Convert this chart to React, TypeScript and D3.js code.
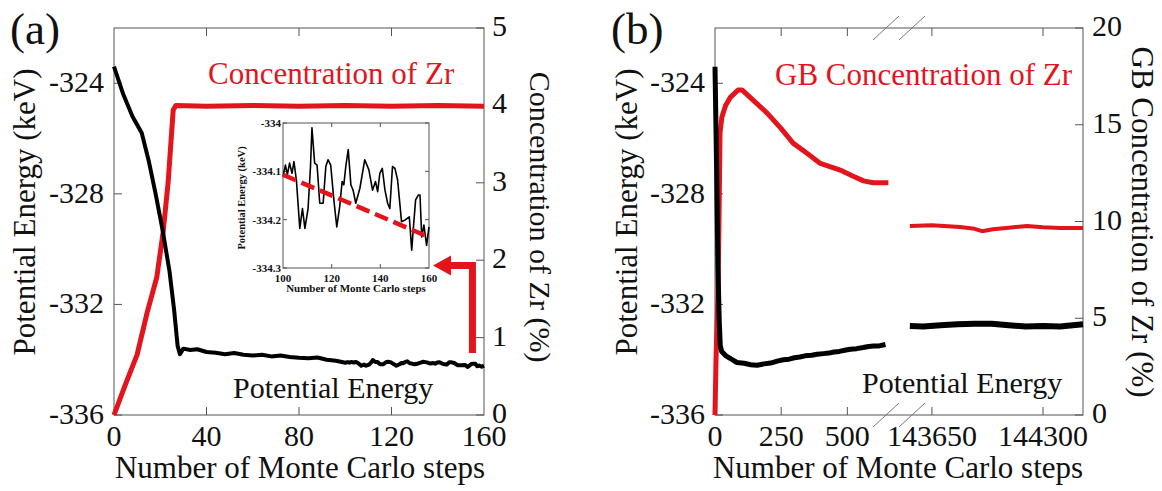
import React from 'react';
import * as d3 from 'd3';

// ---- panel (a) data ----
const aEnergySteps = [0, 4, 8, 12, 15, 18, 21, 24, 26, 27.5, 28.5, 30, 33, 36, 40, 44, 48, 52, 56, 60, 64, 68, 72, 76, 80, 84, 88, 92, 96];
const aEnergyVals = [-323.4, -324.4, -325.2, -325.8, -326.8, -328.0, -329.3, -330.8, -332.2, -333.5, -333.8, -333.6, -333.65, -333.62, -333.72, -333.75, -333.8, -333.76, -333.82, -333.85, -333.82, -333.88, -333.85, -333.9, -333.93, -333.95, -333.92, -334.0, -334.04];
const aConcSteps = [0, 5, 10, 14.3, 18.5, 21.2, 23.4, 25.6, 26.8, 40, 60, 80, 100, 120, 140, 160];
const aConcVals = [0, 0.4, 0.78, 1.32, 1.78, 2.35, 3.0, 3.94, 4.0, 3.99, 4.0, 3.99, 4.0, 3.99, 4.0, 3.99];

// inset: steps 100-160
const insetSteps = [100, 101, 101.8, 102.7, 103.7, 104.5, 105.5, 106.9, 108, 109, 110.3, 111.3, 111.9, 113, 114, 115.1, 116.5, 117.6, 118.5, 119.6, 120.9, 122.1, 123.3, 124.3, 125, 125.8, 126.8, 127.9, 128.8, 129.9, 131.6, 133.6, 135.3, 136.8, 138, 138.9, 139.8, 140.8, 141.9, 143, 143.9, 145, 146, 147.1, 148.7, 150.1, 151.9, 152.9, 153.5, 154.5, 155.6, 156.3, 157, 157.9, 159, 160];
const insetVals = [-334.111, -334.087, -334.107, -334.083, -334.104, -334.08, -334.118, -334.218, -334.177, -334.218, -334.177, -334.09, -334.01, -334.083, -334.087, -334.166, -334.166, -334.09, -334.076, -334.087, -334.159, -334.215, -334.173, -334.121, -334.128, -334.09, -334.055, -334.128, -334.139, -334.166, -334.135, -334.076, -334.097, -334.139, -334.121, -334.142, -334.104, -334.094, -334.139, -334.166, -334.177, -334.09, -334.094, -334.118, -334.204, -334.201, -334.194, -334.263, -334.222, -334.159, -334.149, -334.149, -334.236, -334.211, -334.253, -334.215];
const insetTrendSteps = [100, 160];
const insetTrendVals = [-334.107, -334.236];

const aXTicks = [0, 40, 80, 120, 160];
const energyTicks = [-324, -328, -332, -336];
const aConcTicks = [0, 1, 2, 3, 4, 5];
const insetXTicks = [100, 120, 140, 160];
const insetYTicks = [-334, -334.1, -334.2, -334.3];

// ---- panel (b) data ----
const bEnergy1Steps = [0, 6, 11, 16, 20, 25, 40, 60, 83, 110, 135, 159, 185, 210, 235, 258, 280, 300, 320, 340, 365, 386, 410, 430, 450, 470, 490, 511, 535, 560, 580, 600, 620, 644];
const bEnergy1Vals = [-323.4, -327.0, -330.6, -332.6, -333.5, -333.7, -333.85, -333.97, -334.1, -334.13, -334.18, -334.2, -334.15, -334.12, -334.05, -334.0, -333.98, -333.93, -333.9, -333.86, -333.84, -333.8, -333.78, -333.76, -333.72, -333.7, -333.66, -333.62, -333.6, -333.56, -333.52, -333.5, -333.5, -333.45];
const bEnergy2Steps = [143521, 143600, 143700, 143800, 143900, 144000, 144100, 144200, 144300, 144400, 144534];
const bEnergy2Vals = [-332.78, -332.8, -332.75, -332.72, -332.7, -332.7, -332.75, -332.8, -332.78, -332.8, -332.72];
const bConc1Steps = [0, 4, 11, 15, 19, 26, 40, 57, 87, 102, 150, 197, 250, 295, 350, 398, 473, 520, 561, 598, 655];
const bConc1Vals = [0, 3, 6, 10, 14.6, 15.4, 16.0, 16.4, 16.8, 16.8, 16.2, 15.6, 14.8, 14.05, 13.5, 13.0, 12.66, 12.35, 12.1, 12.0, 12.0];
const bConc2Steps = [143521, 143650, 143814, 143900, 143943, 144007, 144100, 144206, 144300, 144399, 144534];
const bConc2Vals = [9.77, 9.8, 9.72, 9.62, 9.5, 9.6, 9.68, 9.77, 9.7, 9.66, 9.66];

const bXTicks = [0, 250, 500, 143650, 144300];
const bConcTicks = [0, 5, 10, 15, 20];

const RED = '#e3141c';
const FRAME = '#555';
const FONT = '"Liberation Serif", "Times New Roman", serif';

const zip = (xs: number[], ys: number[]) => xs.map((x, i) => [x, ys[i]] as [number, number]);

export default function App() {
  const top = 28, bottom = 415;

  // scales (a)
  const xA = d3.scaleLinear().domain([0, 160]).range([114, 484]);
  const yE = d3.scaleLinear().domain([-336, -322]).range([bottom, top]);
  const yCA = d3.scaleLinear().domain([0, 5]).range([bottom, top]);
  const xI = d3.scaleLinear().domain([100, 160]).range([283, 429]);
  const yI = d3.scaleLinear().domain([-334.3, -334]).range([268, 123]);

  // scales (b) - broken axis
  const xB = d3.scaleLinear().domain([0, 680, 143434, 144534]).range([715, 895, 895, 1083]);
  const yCB = d3.scaleLinear().domain([0, 20]).range([bottom, top]);

  const lineA = d3.line<[number, number]>().x(d => xA(d[0])).y(d => yE(d[1]));
  const concA = d3.line<[number, number]>().x(d => xA(d[0])).y(d => yCA(d[1]));
  const lineI = d3.line<[number, number]>().x(d => xI(d[0])).y(d => yI(d[1]));
  const lineB = d3.line<[number, number]>().x(d => xB(d[0])).y(d => yE(d[1]));
  const concB = d3.line<[number, number]>().x(d => xB(d[0])).y(d => yCB(d[1]));

  const aEnergy = zip(aEnergySteps, aEnergyVals).concat(zip(insetSteps, insetVals));

  const tickLen = 8;
  const txt = { fontFamily: FONT, fontSize: 30, fill: '#111' } as React.CSSProperties;

  // arrow from right axis region up and left to the inset corner
  const arrX = xA(155);
  const arrY0 = yCA(0.8);
  const arrY1 = yCA(1.93);
  const tipX = xI(160) + 4;

  const slash = (cx: number, cy: number, key: string) => (
    <line key={key} x1={cx - 13} y1={cy + 12} x2={cx + 13} y2={cy - 12} stroke="#777" strokeWidth={1} />
  );

  return (
    <svg width={1162} height={491} style={{ position: 'absolute', left: 0, top: 0, background: '#fff' }}>
      {/* ================= panel (a) ================= */}
      <text x={10} y={44} style={{ ...txt, fontSize: 45 }}>(a)</text>
      <rect x={114} y={top} width={370} height={bottom - top} fill="none" stroke={FRAME} strokeWidth={1} />
      {aXTicks.map(t => (
        <g key={'ax' + t}>
          {t > 0 && t < 160 && <>
            <line x1={xA(t)} x2={xA(t)} y1={bottom} y2={bottom - tickLen} stroke={FRAME} />
            <line x1={xA(t)} x2={xA(t)} y1={top} y2={top + tickLen} stroke={FRAME} />
          </>}
          <text x={xA(t)} y={446} textAnchor="middle" style={txt}>{t}</text>
        </g>
      ))}
      {energyTicks.map(t => (
        <g key={'aye' + t}>
          <line x1={114} x2={114 + tickLen} y1={yE(t)} y2={yE(t)} stroke={FRAME} />
          <text x={104} y={yE(t) + 9} textAnchor="end" style={txt}>{t}</text>
        </g>
      ))}
      {aConcTicks.map(t => (
        <g key={'ayc' + t}>
          <line x1={484} x2={484 - tickLen} y1={yCA(t)} y2={yCA(t)} stroke={FRAME} />
          <text x={492} y={yCA(t) + 8} textAnchor="start" style={txt}>{t}</text>
        </g>
      ))}
      <text x={300} y={478} textAnchor="middle" style={{ ...txt, fontSize: 31 }}>Number of Monte Carlo steps</text>
      <text transform={`translate(35,212) rotate(-90)`} textAnchor="middle" style={{ ...txt, fontSize: 31 }}>Potential Energy (keV)</text>
      <text transform={`translate(530,217) rotate(90)`} textAnchor="middle" style={{ ...txt, fontSize: 30 }}>Concentration of Zr (%)</text>

      <path d={concA(zip(aConcSteps, aConcVals)) || ''} fill="none" stroke={RED} strokeWidth={5} strokeLinejoin="round" />
      <path d={lineA(aEnergy) || ''} fill="none" stroke="#000" strokeWidth={4} strokeLinejoin="round" />

      <text x={208} y={84} style={{ ...txt, fontSize: 31, fill: RED }}>Concentration of Zr</text>
      <text x={233} y={398} style={{ ...txt, fontSize: 30 }}>Potential Energy</text>

      {/* arrow */}
      <path d={`M${arrX},${arrY0} L${arrX},${arrY1} L${tipX + 16},${arrY1}`} fill="none" stroke={RED} strokeWidth={7} />
      <path d={`M${tipX},${arrY1} L${tipX + 18},${arrY1 - 10} L${tipX + 18},${arrY1 + 10} Z`} fill={RED} />

      {/* inset */}
      <rect x={283} y={123} width={146} height={145} fill="#fff" stroke={FRAME} strokeWidth={1} />
      {insetXTicks.map(t => (
        <g key={'ix' + t}>
          {t > 100 && t < 160 && <>
            <line x1={xI(t)} x2={xI(t)} y1={268} y2={264} stroke={FRAME} />
            <line x1={xI(t)} x2={xI(t)} y1={123} y2={127} stroke={FRAME} />
          </>}
          <text x={xI(t)} y={282} textAnchor="middle" style={{ ...txt, fontSize: 11, fontWeight: 'bold' }}>{t}</text>
        </g>
      ))}
      {insetYTicks.map(t => (
        <g key={'iy' + t}>
          <line x1={283} x2={287} y1={yI(t)} y2={yI(t)} stroke={FRAME} />
          <line x1={429} x2={425} y1={yI(t)} y2={yI(t)} stroke={FRAME} />
          <text x={281} y={yI(t) + 4} textAnchor="end" style={{ ...txt, fontSize: 11, fontWeight: 'bold' }}>{t}</text>
        </g>
      ))}
      <text x={356} y={292} textAnchor="middle" style={{ ...txt, fontSize: 11, fontWeight: 'bold' }}>Number of Monte Carlo steps</text>
      <text transform={`translate(245,198) rotate(-90)`} textAnchor="middle" style={{ ...txt, fontSize: 10.5, fontWeight: 'bold' }}>Potential Energy (keV)</text>
      <path d={lineI(zip(insetSteps, insetVals)) || ''} fill="none" stroke="#000" strokeWidth={1.6} strokeLinejoin="round" />
      <path d={lineI(zip(insetTrendSteps, insetTrendVals)) || ''} fill="none" stroke={RED} strokeWidth={4.5} strokeDasharray="14,6" />

      {/* ================= panel (b) ================= */}
      <text x={611} y={44} style={{ ...txt, fontSize: 45 }}>(b)</text>
      <rect x={715} y={top} width={368} height={bottom - top} fill="none" stroke={FRAME} strokeWidth={1} />
      {bXTicks.map(t => (
        <g key={'bx' + t}>
          {t > 0 && <>
            <line x1={xB(t)} x2={xB(t)} y1={bottom} y2={bottom - tickLen} stroke={FRAME} />
            <line x1={xB(t)} x2={xB(t)} y1={top} y2={top + tickLen} stroke={FRAME} />
          </>}
          <text x={xB(t)} y={446} textAnchor="middle" style={txt}>{t}</text>
        </g>
      ))}
      {energyTicks.map(t => (
        <g key={'bye' + t}>
          <line x1={715} x2={715 + tickLen} y1={yE(t)} y2={yE(t)} stroke={FRAME} />
          <text x={705} y={yE(t) + 9} textAnchor="end" style={txt}>{t}</text>
        </g>
      ))}
      {bConcTicks.map(t => (
        <g key={'byc' + t}>
          <line x1={1083} x2={1083 - tickLen} y1={yCB(t)} y2={yCB(t)} stroke={FRAME} />
          <text x={1092} y={yCB(t) + 8} textAnchor="start" style={txt}>{t}</text>
        </g>
      ))}
      {slash(886, bottom, 's1')}
      {slash(912, bottom, 's2')}
      {slash(886, top, 's3')}
      {slash(912, top, 's4')}
      <text x={898} y={478} textAnchor="middle" style={{ ...txt, fontSize: 31 }}>Number of Monte Carlo steps</text>
      <text transform={`translate(637,212) rotate(-90)`} textAnchor="middle" style={{ ...txt, fontSize: 31 }}>Potential Energy (keV)</text>
      <text transform={`translate(1132,222) rotate(90)`} textAnchor="middle" style={{ ...txt, fontSize: 31 }}>GB Concentration of Zr (%)</text>

      <path d={concB(zip(bConc1Steps, bConc1Vals)) || ''} fill="none" stroke={RED} strokeWidth={5} strokeLinejoin="round" />
      <path d={concB(zip(bConc2Steps, bConc2Vals)) || ''} fill="none" stroke={RED} strokeWidth={4} strokeLinejoin="round" />
      <path d={lineB(zip(bEnergy1Steps, bEnergy1Vals)) || ''} fill="none" stroke="#000" strokeWidth={5} strokeLinejoin="round" />
      <path d={lineB(zip(bEnergy2Steps, bEnergy2Vals)) || ''} fill="none" stroke="#000" strokeWidth={6} strokeLinejoin="round" />

      <text x={775} y={85} style={{ ...txt, fontSize: 31, fill: RED }}>GB Concentration of Zr</text>
      <text x={862} y={393} style={{ ...txt, fontSize: 30 }}>Potential Energy</text>
    </svg>
  );
}
